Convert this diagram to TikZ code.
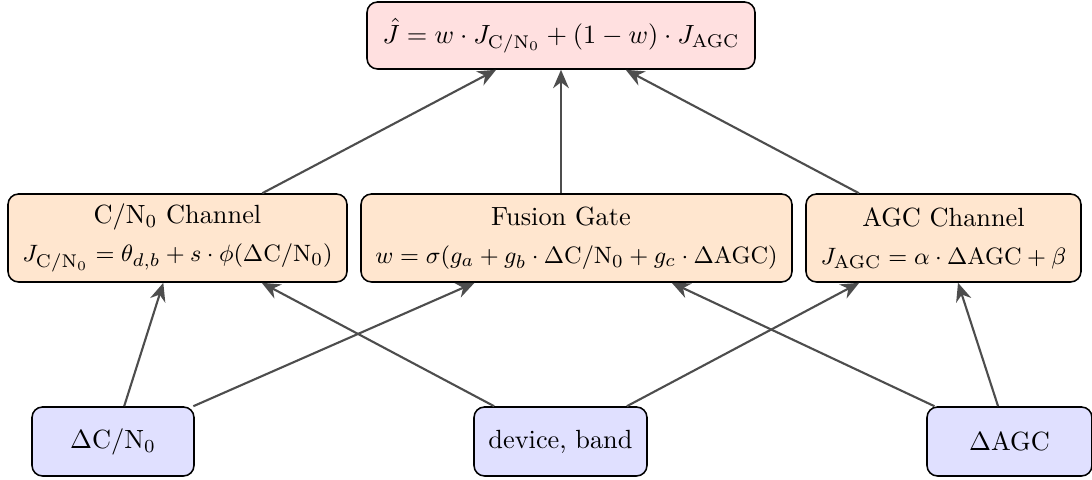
\documentclass[tikz,border=0pt]{standalone}
\usetikzlibrary{arrows.meta}
\definecolor{topfill}{HTML}{FFE0E0}
\definecolor{midfill}{HTML}{FFE6CF}
\definecolor{botfill}{HTML}{E0E0FF}
\definecolor{arrowgray}{HTML}{4D4D4D}
\newcommand{\fml}{\fontsize{9.35}{11.5}\selectfont}
\tikzset{
  box/.style={draw=black, line width=0.6pt, rounded corners=4pt, align=center, inner sep=3pt},
  wh/.style 2 args={minimum width=#1*0.38pt, minimum height=#2*0.38pt},
  topbox/.style={box, fill=topfill},
  midbox/.style={box, fill=midfill},
  botbox/.style={box, fill=botfill},
  arr/.style={draw=arrowgray, line width=0.8pt, -{Stealth[length=7pt,width=6pt]}}
}
\begin{document}
\begin{tikzpicture}[x=0.38pt, y=-0.38pt]
\useasboundingbox (0,0) rectangle (1092,480);
\node[topbox, wh={388}{67}] (top) at (561,35.5)
  {$\hat{J} = w\cdot J_{\mathrm{C/N_0}} + (1-w)\cdot J_{\mathrm{AGC}}$};
\node[midbox, wh={339}{88}] (cn) at (177.5,238)
  {C/N$_0$ Channel\\[2.5pt] {\fml$J_{\mathrm{C/N_0}} = \theta_{d,b} + s\cdot\phi(\Delta\mathrm{C/N_0})$}};
\node[midbox, wh={431}{88}] (fusion) at (576.5,238)
  {\hspace*{-11.8pt}Fusion Gate\\[2.5pt] {\fml$w = \sigma(g_a + g_b\cdot\Delta\mathrm{C/N_0} + g_c\cdot\Delta\mathrm{AGC})$}};
\node[midbox, wh={275}{88}] (agc) at (943.5,238)
  {AGC Channel\\[2.5pt] {\fml$J_{\mathrm{AGC}} = \alpha\cdot\Delta\mathrm{AGC} + \beta$}};
\node[botbox, wh={162}{69}] (dcn) at (113,441.5) {$\Delta\mathrm{C/N_0}$};
\node[botbox, wh={173}{69}] (dev) at (560.5,441.5) {device, band};
\node[botbox, wh={165}{69}] (dagc) at (1009.5,441.5) {$\Delta\mathrm{AGC}$};
\draw[arr] (cn) -- (top);
\draw[arr] (fusion.north -| top) -- (top);
\draw[arr] (agc) -- (top);
\draw[arr] (dcn) -- (cn);
\draw[arr] (dcn) -- (fusion);
\draw[arr] (dev) -- (cn);
\draw[arr] (dev) -- (agc);
\draw[arr] (dagc) -- (fusion);
\draw[arr] (dagc) -- (agc);
\end{tikzpicture}
\end{document}
